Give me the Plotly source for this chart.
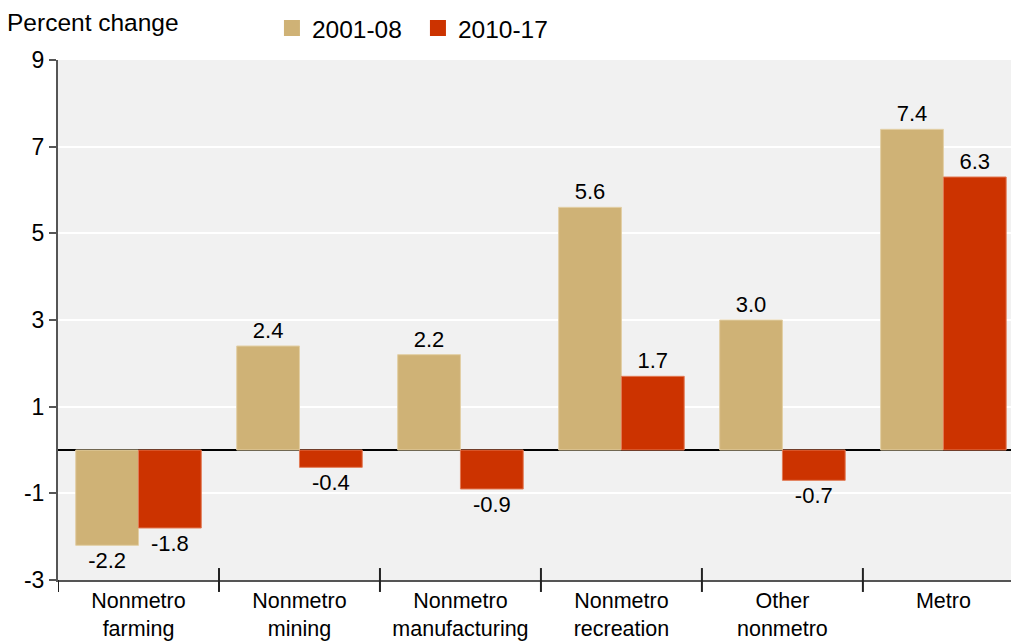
import plotly.graph_objects as go

categories = ["Nonmetro<br>farming", "Nonmetro<br>mining", "Nonmetro<br>manufacturing",
              "Nonmetro<br>recreation", "Other<br>nonmetro", "Metro"]
s2001 = [-2.2, 2.4, 2.2, 5.6, 3.0, 7.4]
s2010 = [-1.8, -0.4, -0.9, 1.7, -0.7, 6.3]
y_ticks = [-3, -1, 1, 3, 5, 7, 9]
series_names = ["2001-08", "2010-17"]

FONT = "Liberation Sans, Arial, sans-serif"
TAN = "#CFB276"
RED = "#CC3300"
colors = [TAN, RED]
edges = ["#E2CFA5", "#E27A55"]

fig = go.Figure()
for name, vals, col, edge in zip(series_names, [s2001, s2010], colors, edges):
    fig.add_bar(x=categories, y=vals, name=name, marker_color=col,
                marker_line=dict(color=edge, width=1),
                text=[f"{v:.1f}" for v in vals], textposition="outside",
                textfont=dict(size=22, color="#000"), cliponaxis=False,
                showlegend=False)
# legend entries (square swatches)
for name, col in zip(series_names, colors):
    fig.add_scatter(x=[None], y=[None], mode="markers", name=name,
                    marker=dict(symbol="square", size=16, color=col))

# category separator ticks crossing the bottom axis
shapes = [dict(type="line", xref="x", yref="paper", x0=-0.5, x1=-0.5,
               y0=-0.023, y1=0, line=dict(color="#222", width=2), layer="above")]
for i in range(len(categories) - 1):
    shapes.append(dict(type="line", xref="x", yref="paper", x0=i + 0.5, x1=i + 0.5,
                       y0=-0.023, y1=0.023, line=dict(color="#222", width=2), layer="above"))

fig.update_layout(
    width=1011, height=642,
    margin=dict(l=58, r=0, t=60, b=62, autoexpand=False),
    paper_bgcolor="white", plot_bgcolor="#F1F1F1",
    font=dict(family=FONT, size=22, color="#000"),
    barmode="group", bargap=0.22, bargroupgap=0,
    showlegend=True,
    legend=dict(orientation="h", x=0.2245, y=1.0615, xanchor="left", yanchor="middle",
                font=dict(size=24.5), itemwidth=30, itemsizing="trace",
                entrywidth=101, bgcolor="rgba(0,0,0,0)"),
    shapes=shapes,
    annotations=[dict(text="Percent change", xref="paper", yref="paper",
                      x=-53/953, y=1.0, xanchor="left", yanchor="bottom", yshift=22,
                      showarrow=False, font=dict(size=24.5))],
    xaxis=dict(type="category", range=[-0.5, 5.42], ticks="",
               showline=True, linecolor="#555", linewidth=2, tickangle=0,
               automargin=False, showgrid=False, tickfont=dict(size=21.5)),
    yaxis=dict(range=[-3, 9], tickvals=y_ticks, ticktext=[str(v) for v in y_ticks],
               ticks="outside", ticklen=7, automargin=False,
               tickwidth=2, tickcolor="#555", showline=True, linecolor="#555",
               linewidth=2, showgrid=True, gridcolor="white", gridwidth=2,
               zeroline=True, zerolinecolor="#000", zerolinewidth=2,
               tickfont=dict(size=23)),
)

fig.write_html("out.html")
